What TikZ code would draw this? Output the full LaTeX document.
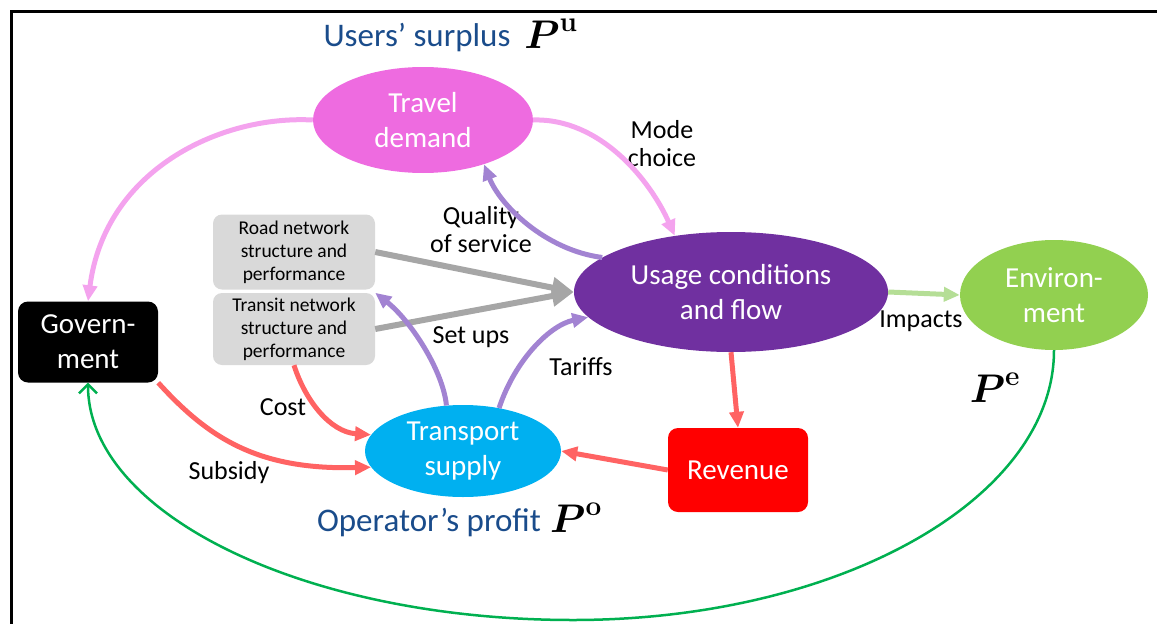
\RequirePackage{fix-cm}
\documentclass[tikz,border=0pt]{standalone}
\usepackage{amsmath}
\usepackage[no-math]{fontspec}
\setmainfont{Carlito}
\usetikzlibrary{shapes.geometric,arrows.meta}
\definecolor{tdpink}{HTML}{EE6BE0}
\definecolor{ucpurple}{HTML}{7030A0}
\definecolor{envgreen}{HTML}{92D050}
\definecolor{tsblue}{HTML}{00B0F0}
\definecolor{boxgray}{HTML}{D9D9D9}
\definecolor{headblue}{HTML}{1A4C8B}
\definecolor{arpink}{HTML}{F4A3EE}
\definecolor{arpurple}{HTML}{A283D2}
\definecolor{arred}{HTML}{FF6363}
\definecolor{argray}{HTML}{A6A6A6}
\definecolor{argreen}{HTML}{B5DE96}
\definecolor{curvegreen}{HTML}{00B050}
\tikzset{
  ell/.style={ellipse, inner sep=0pt, align=center, text=white, font=\fontsize{29}{35}\selectfont},
  rbox/.style={rectangle, rounded corners=10pt, inner sep=0pt, align=center, text=white, font=\fontsize{29}{35}\selectfont},
  gbox/.style={rectangle, rounded corners=9pt, fill=boxgray, inner sep=0pt, align=center, font=\fontsize{19.5}{23}\selectfont, minimum width=162pt},
  lbl/.style={align=center, font=\fontsize{26}{28}\selectfont},
  head/.style={text=headblue, font=\fontsize{33}{38}\selectfont},
  pmath/.style={font=\fontsize{40}{46}\selectfont},
  fat/.style={line width=5pt, -{Triangle[length=16pt,width=14pt]}},
  grayarr/.style={line width=6pt, argray, -{Triangle[length=22pt,width=20pt]}},
}
\begin{document}
\begin{tikzpicture}[x=1pt,y=-1pt]
\useasboundingbox (0,0) rectangle (1157,624);
\draw[line width=3pt] (1157,11) -- (11,11) -- (11,630);

% nodes
\node[ell, fill=tdpink, minimum width=220pt, minimum height=106pt] (td) at (423,120) {Travel\\demand};
\node[ell, fill=ucpurple, minimum width=314pt, minimum height=120pt] (uc) at (731,292) {Usage conditions\\and flow};
\node[ell, fill=envgreen, minimum width=188pt, minimum height=110pt] (env) at (1054,295) {Environ-\\ment};
\node[ell, fill=tsblue, minimum width=196pt, minimum height=92pt] (ts) at (463,451) {Transport\\supply};
\node[rbox, fill=black, minimum width=140pt, minimum height=81pt] (gov) at (88,342) {Govern-\\ment};
\node[rbox, fill=red, minimum width=140pt, minimum height=84pt] (rev) at (738,470) {Revenue};
\node[gbox, minimum height=75pt] (road) at (294,252) {Road network\\structure and\\performance};
\node[gbox, minimum height=72pt] (transit) at (294,329) {Transit network\\structure and\\performance};

% headings
\node[head] (hu) at (417,38) {Users' surplus};
\node[pmath] (pu) at (551,34) {$\boldsymbol{P}^{\mathbf{u}}$};
\node[head] (ho) at (429,523) {Operator's profit};
\node[pmath] (po) at (576,518) {$\boldsymbol{P}^{\mathbf{o}}$};
\node[pmath] (pe) at (995,388) {$\boldsymbol{P}^{\mathbf{e}}$};

% labels
\node[lbl] (lmode) at (662,144) {Mode\\choice};
\node[lbl] (lqual) at (481,230) {Quality\\of service};
\node[lbl] (lset) at (471,337) {Set ups};
\node[lbl] (ltar) at (581,367) {Tariffs};
\node[lbl] (lcost) at (283,407) {Cost};
\node[lbl] (lsub) at (229,473) {Subsidy};
\node[lbl] (limp) at (921,321) {Impacts};

% connectors
\draw[fat, arpink] (td.west) .. controls (220,115) and (105,170) .. (gov.north);
\draw[fat, arpink] (td.east) .. controls (600,118) and (650,180) .. (uc.135);
\draw[fat, arpurple] (uc.165) .. controls (545,250) and (500,205) .. (td.-36);
\draw[grayarr] (road.east) -- (uc.west);
\draw[grayarr] (transit.east) -- (uc.west);
\draw[fat, arpurple] (ts.110) .. controls (443,370) and (410,320) .. (transit.north east);
\draw[fat, arpurple] (ts.50) .. controls (515,360) and (550,325) .. (uc.190);
\draw[fat, arred] (transit.south) .. controls (305,400) and (330,432) .. (ts.170);
\draw[fat, arred] (gov.south east) .. controls (210,440) and (260,470) .. (ts.190);
\draw[fat, arred] (rev.west) -- (ts.east);
\draw[fat, arred] (uc.south) -- (rev.north);
\draw[fat, argreen] (uc.east) -- (env.west);
\draw[line width=2.5pt, curvegreen, -{Straight Barb[length=9pt,width=18pt]}]
  (env.south) .. controls (1054,499) and (839,620) .. (573,620)
  .. controls (305,620) and (88,514) .. (gov.south);
\end{tikzpicture}
\end{document}
